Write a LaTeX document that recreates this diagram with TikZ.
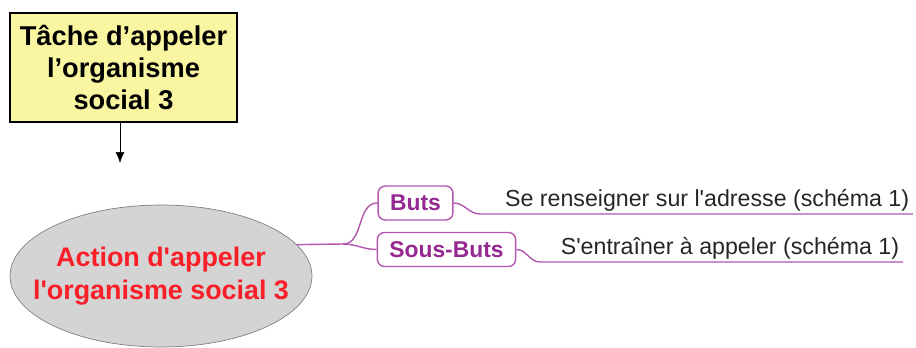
\documentclass[tikz,border=0pt]{standalone}
\usepackage{fontspec}
\setmainfont{Liberation Sans}
\usepackage{tikz}
\usetikzlibrary{arrows.meta, positioning, shapes.geometric, calc}

\definecolor{taskyellow}{RGB}{250,245,160}
\definecolor{actiongrey}{RGB}{212,212,212}
\definecolor{actionred}{RGB}{250,30,40}
\definecolor{mapline}{RGB}{180,85,175}
\definecolor{maptext}{RGB}{150,40,145}

\begin{document}
\begin{tikzpicture}[
    x=0.02cm, y=-0.02cm,
    task/.style={draw, thick, fill=taskyellow, align=center, minimum width=4.54cm, minimum height=2.18cm, inner sep=0pt, font=\fontsize{15.5}{18}\selectfont\bfseries},
    action/.style={ellipse, draw=gray, fill=actiongrey, align=center, minimum width=6.04cm, minimum height=2.84cm, inner xsep=-0.45cm, inner ysep=0pt, text=actionred, font=\fontsize{15.3}{19}\selectfont\bfseries},
    goal/.style={draw=mapline, thick, rounded corners=4pt, minimum height=0.68cm, inner xsep=0.24cm, text=maptext, font=\fontsize{13}{15}\selectfont\bfseries},
    leaf/.style={inner xsep=2pt, inner ysep=1.5pt, text=black!85, font=\fontsize{13.2}{15}\selectfont},
    branch/.style={draw=mapline, thick}
]
\useasboundingbox (0,0) rectangle (916,348);

\node[task] (task) at (123.5,67.5) {T\^ache d’appeler\\l’organisme\\social 3};
\coordinate (tip) at (120,163);
\draw[-{Latex[length=2.2mm, width=1.8mm]}] (task.south -| tip) -- (tip);

\node[action] (action) at (161,276) {Action d\textquotesingle appeler\\l\textquotesingle organisme social 3};

\node[goal] (buts) at (415.5,203) {Buts};
\node[goal] (sousbuts) at (446.5,249.5) {Sous-Buts};

\node[leaf, anchor=south east] (adresse) at (913,214) {Se renseigner sur l\textquotesingle adresse (schéma 1)};
\node[leaf, anchor=south east] (appeler) at (903,262) {S\textquotesingle entraîner à appeler (schéma 1)};

\coordinate (fork) at (343,244);
\coordinate (a1) at (480,214);
\coordinate (a2) at (540,262);

\draw[branch] (action.13) -- (fork);
\draw[branch] (fork) to[out=0, in=180] (buts.west);
\draw[branch] (fork) to[out=0, in=180] (sousbuts.west);
\draw[branch] (buts.east) to[out=0, in=180] (a1) -- (adresse.south east);
\draw[branch] (sousbuts.east) to[out=0, in=180] (a2) -- (appeler.south east);
\end{tikzpicture}
\end{document}
